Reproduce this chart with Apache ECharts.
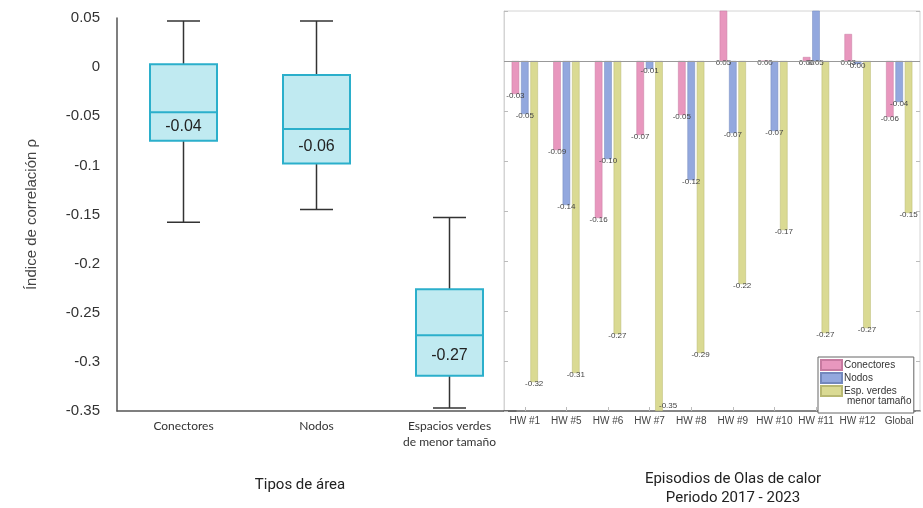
<!DOCTYPE html>
<html>
<head>
<meta charset="utf-8">
<script src="https://cdn.jsdelivr.net/npm/echarts@6/dist/echarts.min.js"></script>
<style>
html, body { margin: 0; padding: 0; background: #fff; }
#chart { width: 923px; height: 508px; }
</style>
</head>
<body>
<div id="chart"></div>
<script>
// left panel: box plots per area type
const areaTypes = ["Conectores", "Nodos", "Espacios verdes\nde menor tamaño"]
const boxMin = [-0.158, -0.145, -0.347]
const boxQ1 = [-0.075, -0.098, -0.314]
const boxMedian = [-0.046, -0.063, -0.273]
const boxQ3 = [0.003, -0.008, -0.226]
const boxMax = [0.047, 0.047, -0.153]
const boxLabels = ["-0.04", "-0.06", "-0.27"]

// right panel: heat wave episodes
const episodes = ["HW #1", "HW #5", "HW #6", "HW #7", "HW #8", "HW #9", "HW #10", "HW #11", "HW #12", "Global"]
const conectores = [-0.033, -0.089, -0.157, -0.074, -0.054, 0.052, 0, 0.004, 0.027, -0.056]
const nodos = [-0.053, -0.144, -0.098, -0.008, -0.119, -0.072, -0.07, 0.052, -0.003, -0.041]
const espVerdes = [-0.321, -0.312, -0.273, -0.35, -0.292, -0.223, -0.169, -0.272, -0.267, -0.152]

const chart = echarts.init(document.getElementById("chart"))

const fmt2 = (v) => (Math.abs(v) < 0.005 ? "0.00" : v.toFixed(2))

const barLabel = {
	show: true,
	position: "bottom",
	distance: -2,
	fontSize: 8,
	color: "#444",
	formatter: (p) => fmt2(p.value)
}

// keep labels of bars that reach the bottom above the axis line
const plotBottom = 508 - 97
const keepInside = (p) => {
	if (p.labelRect.y + p.labelRect.height > plotBottom) {
		return { y: plotBottom - p.labelRect.height - 1 }
	}
}

const boxData = areaTypes.map((c, i) => [i, boxMin[i], boxQ1[i], boxMedian[i], boxQ3[i], boxMax[i]])

const renderBox = (params, api) => {
	const idx = api.value(0)
	const x = api.coord([idx, 0])[0]
	const y = (v) => api.coord([idx, v])[1]
	const yMin = y(api.value(1))
	const yQ1 = y(api.value(2))
	const yMed = y(api.value(3))
	const yQ3 = y(api.value(4))
	const yMax = y(api.value(5))
	const hw = 33.5
	const cap = 16.5
	const whisker = { stroke: "#333", lineWidth: 1.5 }
	const teal = "#2BAFCB"
	return {
		type: "group",
		children: [
			{ type: "line", shape: { x1: x, y1: yMax, x2: x, y2: yQ3 }, style: whisker },
			{ type: "line", shape: { x1: x, y1: yQ1, x2: x, y2: yMin }, style: whisker },
			{ type: "line", shape: { x1: x - cap, y1: yMax, x2: x + cap, y2: yMax }, style: whisker },
			{ type: "line", shape: { x1: x - cap, y1: yMin, x2: x + cap, y2: yMin }, style: whisker },
			{
				type: "rect",
				shape: { x: x - hw, y: yQ3, width: hw * 2, height: yQ1 - yQ3 },
				style: { fill: "#C0EAF1", stroke: teal, lineWidth: 2 }
			},
			{ type: "line", shape: { x1: x - hw, y1: yMed, x2: x + hw, y2: yMed }, style: { stroke: teal, lineWidth: 2 } },
			{
				type: "text",
				style: {
					text: boxLabels[params.dataIndex],
					x: x,
					y: (yMed + yQ1) / 2,
					textAlign: "center",
					textVerticalAlign: "middle",
					font: "16px 'Liberation Sans', Arial, sans-serif",
					fill: "#222"
				}
			}
		]
	}
}

const titleFont = "15px 'Liberation Sans Narrow', 'Roboto', sans-serif"

let option = {
	animation: false,
	textStyle: { fontFamily: "'Liberation Sans', Arial, sans-serif" },
	grid: [
		{ left: 117, width: 399, top: 18, bottom: 97 },
		{ left: 504, right: 3, top: 11, bottom: 97, show: true, backgroundColor: "#fff", borderColor: "#d4d4d4", borderWidth: 1 }
	],
	xAxis: [
		{
			gridIndex: 0,
			type: "category",
			data: areaTypes,
			axisLine: { onZero: false, lineStyle: { color: "#555", width: 1.5 } },
			axisTick: { show: false },
			axisLabel: { color: "#333", fontSize: 12, margin: 7, lineHeight: 16, fontFamily: "Lato, 'Noto Sans', sans-serif" }
		},
		{
			gridIndex: 1,
			type: "category",
			data: episodes,
			axisLine: { onZero: false, lineStyle: { color: "#666", width: 1.5 } },
			axisTick: { show: true, inside: true, alignWithLabel: true, length: 4, lineStyle: { color: "#bbb" } },
			axisLabel: { color: "#444", fontSize: 10, margin: 5, interval: 0 }
		},
		{
			gridIndex: 1,
			type: "category",
			position: "top",
			data: episodes,
			axisLine: { show: false },
			axisTick: { show: true, inside: true, alignWithLabel: true, length: 4, lineStyle: { color: "#bbb" } },
			axisLabel: { show: false }
		}
	],
	yAxis: [
		{
			gridIndex: 0,
			type: "value",
			min: -0.35,
			max: 0.05,
			interval: 0.05,
			name: "Índice de correlación ρ",
			nameLocation: "middle",
			nameGap: 78,
			nameTextStyle: { color: "#444", fontSize: 15 },
			axisLine: { show: true, lineStyle: { color: "#555", width: 1.5 } },
			axisTick: { show: false },
			splitLine: { show: false },
			axisLabel: { color: "#333", fontSize: 15, margin: 17, formatter: (v) => String(+v.toFixed(2)) }
		},
		{
			gridIndex: 1,
			type: "value",
			min: -0.35,
			max: 0.05,
			interval: 0.05,
			axisLine: { show: true, lineStyle: { color: "#d4d4d4" } },
			axisTick: { show: true, inside: true, length: 4, lineStyle: { color: "#bbb" } },
			axisLabel: { show: false },
			splitLine: { show: false }
		},
		{
			gridIndex: 1,
			type: "value",
			position: "right",
			min: -0.35,
			max: 0.05,
			interval: 0.05,
			axisLine: { show: false },
			axisTick: { show: true, inside: true, length: 4, lineStyle: { color: "#bbb" } },
			axisLabel: { show: false },
			splitLine: { show: false }
		}
	],
	legend: {
		orient: "vertical",
		left: 818,
		top: 357,
		padding: [2, 17, 16, 2],
		itemWidth: 21,
		itemHeight: 10,
		itemGap: 1,
		backgroundColor: "#fff",
		borderColor: "#666",
		borderWidth: 1,
		borderRadius: 0,
		icon: "rect",
		textStyle: { fontSize: 10, color: "#333", padding: [0, 0, 0, -3] },
		data: ["Conectores", "Nodos", "Esp. verdes menor tamaño"],
		formatter: (name) => (name === "Esp. verdes menor tamaño" ? "Esp. verdes" : name)
	},
	graphic: [
		{
			type: "text",
			z: 100,
			style: { text: "menor tamaño", x: 847, y: 401, textVerticalAlign: "middle", font: "10px 'Liberation Sans', Arial, sans-serif", fill: "#333" }
		},
		{
			type: "text",
			style: { text: "Tipos de área", x: 300, y: 485, textAlign: "center", textVerticalAlign: "middle", font: titleFont, fill: "#222" }
		},
		{
			type: "text",
			style: { text: "Episodios de Olas de calor", x: 733, y: 479, textAlign: "center", textVerticalAlign: "middle", font: titleFont, fill: "#222" }
		},
		{
			type: "text",
			style: { text: "Periodo 2017 - 2023", x: 733, y: 498, textAlign: "center", textVerticalAlign: "middle", font: titleFont, fill: "#222" }
		}
	],
	series: [
		{
			name: "Tipos de área",
			type: "custom",
			xAxisIndex: 0,
			yAxisIndex: 0,
			renderItem: renderBox,
			encode: { x: 0, y: [1, 2, 3, 4, 5] },
			data: boxData
		},
		{
			name: "Conectores",
			type: "bar",
			xAxisIndex: 1,
			yAxisIndex: 1,
			barWidth: 7.5,
			barGap: "25%",
			itemStyle: { color: "#E897BE", borderColor: "#c77aa0", borderWidth: 0.5 },
			label: barLabel,
			labelLayout: keepInside,
			markLine: {
				silent: true,
				symbol: "none",
				label: { show: false },
				lineStyle: { color: "#999", width: 1, type: "solid" },
				data: [{ yAxis: 0 }]
			},
			data: conectores
		},
		{
			name: "Nodos",
			type: "bar",
			xAxisIndex: 1,
			yAxisIndex: 1,
			barWidth: 7.5,
			barGap: "25%",
			itemStyle: { color: "#93A8DE", borderColor: "#7388bd", borderWidth: 0.5 },
			label: barLabel,
			labelLayout: keepInside,
			data: nodos
		},
		{
			name: "Esp. verdes menor tamaño",
			type: "bar",
			xAxisIndex: 1,
			yAxisIndex: 1,
			barWidth: 7.5,
			barGap: "25%",
			itemStyle: { color: "#DADA93", borderColor: "#b8b872", borderWidth: 0.5 },
			label: barLabel,
			labelLayout: keepInside,
			data: espVerdes
		}
	]
}
chart.setOption(option)
</script>
</body>
</html>
